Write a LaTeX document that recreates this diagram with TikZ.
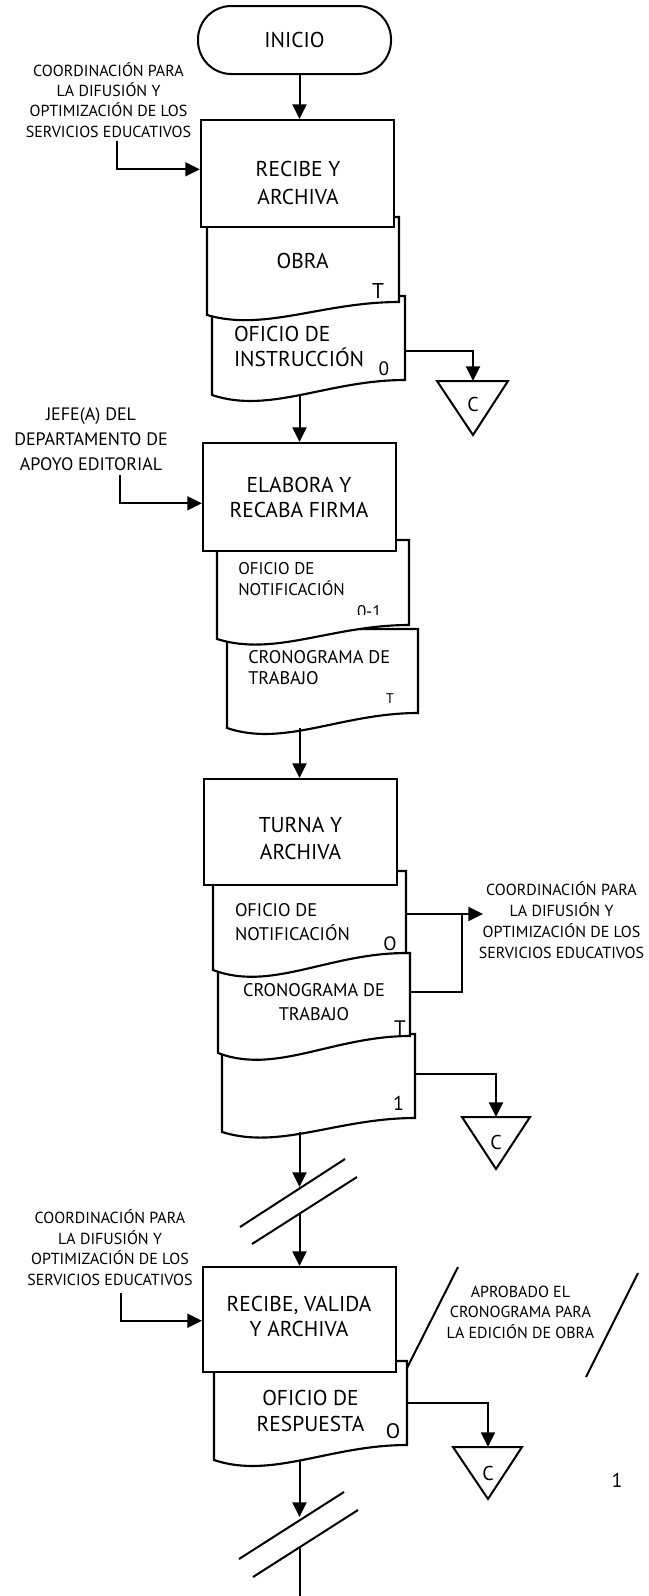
\documentclass[tikz,border=0pt]{standalone}
\usepackage{fontspec}
\setmainfont{PT Sans}
\usetikzlibrary{arrows.meta}
\newcommand\fsz[2]{\fontsize{#1pt}{#2pt}\selectfont}
% document symbol: xl, xr, ytop, ybottom-left, ybottom-right
\newcommand\docshape[5]{%
  \path[docline] (#1,#3) -- (#2,#3) -- (#2,#5)
    .. controls ({#1+0.6*(#2-#1)},#5) and ({#1+0.3*(#2-#1)},{#4+1.3*(#4-#5)}) .. (#1,#4) -- cycle;}
\begin{document}
\begin{tikzpicture}[x=0.75pt,y=-0.75pt,
  line width=1.5pt,
  procbox/.style={draw, fill=white, line width=1.6pt, inner sep=0pt, minimum width=144.75pt},
  docline/.style={draw, fill=white, line width=1.6pt},
  arr/.style={-{Triangle[length=11pt,width=10.5pt]}, line width=1.5pt},
  txt/.style={inner sep=0pt, anchor=base, align=center},
  txtl/.style={inner sep=0pt, anchor=base west, align=left},
  lab/.style={txt, font=\fsz{12}{15.4}},
  offc/.style={draw, line width=1.5pt, line join=miter},
]
\useasboundingbox (0,0) rectangle (649,1596);
\coordinate (fx) at (299.5,0);

% ---------- INICIO ----------
\node[draw, line width=1.5pt, rounded corners=25pt, minimum width=144.75pt,
      minimum height=51pt, inner sep=0pt, font=\fsz{16.1}{19.5}] (ini) at (294.5,40) {INICIO};

% ---------- group 1 ----------
\docshape{212}{405}{296}{395}{380}
\docshape{207}{399}{217}{315}{302}
\node[procbox, minimum height=80.25pt] (r1) at (297.5,173.5) {};

% ---------- group 2 ----------
\docshape{227}{418}{629}{728}{713}
\docshape{217}{409}{540}{639}{625}
\node[procbox, minimum height=81pt] (r2) at (299.5,497) {};

% ---------- group 3 ----------
\docshape{222}{415}{1034}{1132}{1118}
\docshape{218}{410}{953}{1053}{1036}
\docshape{213}{406}{871}{970}{953}
\node[procbox, minimum height=79.5pt] (r3) at (300.5,832) {};

% ---------- group 4 ----------
\docshape{214}{407}{1361}{1460}{1445}
\node[procbox, minimum height=78.75pt] (r4) at (299.5,1319.5) {};

% ---------- off-page connectors ----------
\draw[offc] (437,381) -- (508,381) -- (473,435) -- cycle;
\coordinate (c1) at (473,381);
\draw[offc] (462,1117) -- (530,1117) -- (496,1169) -- cycle;
\coordinate (c2) at (496,1117);
\draw[offc] (453,1447) -- (522,1447) -- (488,1499) -- cycle;
\coordinate (c3) at (488,1447);

% ---------- texts (anchor = baseline of the last line) ----------
\node[txt, font=\fsz{16.1}{20.5}] (t1) at (298,204) {RECIBE Y\\ARCHIVA};
\node[txt, font=\fsz{16.1}{19.5}] (tobra) at (302.7,268.3) {OBRA};
\node[txt, font=\fsz{16.1}{19.5}] (tobraT) at (378,298.3) {T};
\node[txtl, font=\fsz{16.1}{18.75}] (tinst) at (233,366.7) {OFICIO DE\\INSTRUCCIÓN};
\node[txt, font=\fsz{14.5}{17}] (tinst0) at (384,375) {0};
\node[txt, font=\fsz{15}{18}] (tc1) at (473,411.7) {C};

\node[lab, font=\fsz{12}{15.2}] (lab1) at (108.5,137) {COORDINACIÓN PARA\\LA DIFUSIÓN Y\\OPTIMIZACIÓN DE LOS\\SERVICIOS EDUCATIVOS};
\node[txt, font=\fsz{13.5}{18.5}] (lab2) at (91,470) {JEFE(A) DEL\\DEPARTAMENTO DE\\APOYO EDITORIAL};

\node[txt, font=\fsz{16.1}{18.5}] (t2) at (299,517.3) {ELABORA Y\\RECABA FIRMA};
\node[txtl, font=\fsz{12.7}{15.75}] (tnot1) at (237.3,595) {OFICIO DE\\NOTIFICACIÓN};
\begin{scope}
  \clip (0,0) rectangle (649,614.5);
  \node[txtl, font=\fsz{12.7}{15.75}] (tnot1c) at (356,617) {0-1};
\end{scope}
\node[txtl, font=\fsz{13.7}{15.5}] (tcron1) at (247.3,684) {CRONOGRAMA DE\\TRABAJO};
\node[txt, font=\fsz{10.5}{12}] (tcron1T) at (390,703.3) {T};

\node[txt, font=\fsz{16.1}{20}] (t3) at (300.5,859.3) {TURNA Y\\ARCHIVA};
\node[txtl, font=\fsz{13.7}{18}] (tnot2) at (234,940) {OFICIO DE\\NOTIFICACIÓN};
\node[txt, font=\fsz{14.5}{17}] (tnot2O) at (390,950) {O};
\node[txt, font=\fsz{13.7}{17.5}] (tcron2) at (314,1020) {CRONOGRAMA DE\\TRABAJO};
\node[txt, font=\fsz{15.75}{18}] (tcron2T) at (400,1035) {T};
\node[txt, font=\fsz{15}{18}] (tone) at (398.5,1110.7) {1};
\node[lab, font=\fsz{12}{15.75}] (lab3) at (561.5,958.3) {COORDINACIÓN PARA\\LA DIFUSIÓN Y\\OPTIMIZACIÓN DE LOS\\SERVICIOS EDUCATIVOS};
\node[txt, font=\fsz{15}{18}] (tc2) at (496,1149) {C};

\node[lab, font=\fsz{12}{15.6}] (lab4) at (110,1285.7) {COORDINACIÓN PARA\\LA DIFUSIÓN Y\\OPTIMIZACIÓN DE LOS\\SERVICIOS EDUCATIVOS};
\node[txt, font=\fsz{16.1}{18.75}] (t4) at (299,1336.7) {RECIBE, VALIDA\\Y ARCHIVA};
\node[txt, font=\fsz{16.1}{19.3}] (tresp) at (310.5,1431.7) {OFICIO DE\\RESPUESTA};
\node[txt, font=\fsz{15.75}{18}] (trespO) at (393,1438.3) {O};
\node[txt, font=\fsz{15}{18}] (tc3) at (488,1480.7) {C};
\node[txt, font=\fsz{15}{18}] (pagenum) at (617,1487.3) {1};
\node[lab, font=\fsz{12}{15.4}] (lab5) at (520.4,1338.3) {APROBADO EL\\CRONOGRAMA PARA\\LA EDICIÓN DE OBRA};

% ---------- connection points ----------
\coordinate (in1) at (117,141);   \coordinate (in1c) at (117,169.3);
\coordinate (in2) at (120,475);   \coordinate (in2c) at (120,503.3);
\coordinate (in4) at (120.5,1293.3); \coordinate (in4c) at (120.5,1320.7);
\coordinate (d2o) at (405,351);
\coordinate (d2s) at (299.5,395);
\coordinate (d4s) at (299.5,728);
\coordinate (d5o) at (406,914);
\coordinate (l3w) at (483,914);
\coordinate (d6o) at (410,991.5);
\coordinate (jn) at (462,914);
\coordinate (d7o) at (415,1074.3);
\coordinate (d7s) at (299.5,1132);
\coordinate (d8o) at (407,1403);
\coordinate (d8s) at (299.5,1460);
\coordinate (b1t) at (299.5,1187);
\coordinate (b1b) at (299.5,1214);
\coordinate (b2t) at (299.5,1517);
\coordinate (b2b) at (299.5,1548);
\coordinate (bend) at (299.5,1596);

% ---------- connectors ----------
\draw[arr] (ini.south -| fx) -- (r1.north -| fx);
\draw[arr] (in1) -- (in1c) -- (in1c -| r1.west);
\draw[arr] (d2o) -| (c1);
\draw[arr] (d2s) -- (r2.north -| fx);
\draw[arr] (in2) -- (in2c) -- (in2c -| r2.west);
\draw[arr] (d4s) -- (r3.north -| fx);
\draw[arr] (d5o) -- (l3w);
\draw (d6o) -| (jn);
\draw[arr] (d7o) -| (c2);
\draw[arr] (d7s) -- (b1t);
\draw[arr] (b1b) -- (r4.north -| fx);
\draw[arr] (in4) -- (in4c) -- (in4c -| r4.west);
\draw[arr] (d8o) -| (c3);
\draw[arr] (d8s) -- (b2t);
\draw (b2b) -- (bend);

% ---------- break marks ----------
\draw (240,1227) -- (345,1159);
\draw (252,1244) -- (357,1177);
\draw (239,1559) -- (344,1492);
\draw (253,1577) -- (358,1510);

% ---------- annotation slashes ----------
\draw (407,1368) -- (458,1267);
\draw (586,1377) -- (638,1273);
\end{tikzpicture}
\end{document}
